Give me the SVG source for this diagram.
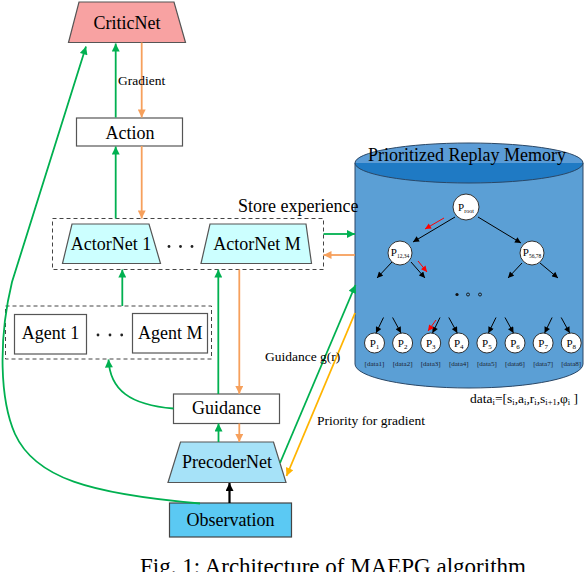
<svg xmlns="http://www.w3.org/2000/svg" width="586" height="572" viewBox="0 0 586 572">
<style>
text{font-family:"Liberation Serif","Times New Roman",serif;fill:#000}
.lbl{font-size:18px;text-anchor:middle}
.sm{font-size:13.5px}
.box{fill:#fff;stroke:#555;stroke-width:1.2}
.dash{fill:none;stroke:#444;stroke-width:1;stroke-dasharray:4,3}
.g{stroke:#00b050;stroke-width:1.8;fill:none}
.o{stroke:#f6a05c;stroke-width:1.8;fill:none}
.y{stroke:#ffb400;stroke-width:1.8;fill:none}
.k{stroke:#000;stroke-width:2.2;fill:none}
.t{stroke:#000;stroke-width:1;fill:none}
.r{stroke:#f00;stroke-width:1;fill:none}
.node{fill:#fff;stroke:#333;stroke-width:1}
.pl{font-size:11px;text-anchor:middle}
.dl{font-size:7px;text-anchor:middle;fill:#1a2230}
.dot{fill:#222}
</style>
<defs>
<marker id="ag" viewBox="0 0 10 10" refX="10" refY="5" markerUnits="userSpaceOnUse" markerWidth="10" markerHeight="8" orient="auto"><path d="M0,0L10,5L0,10z" fill="#00b050"/></marker>
<marker id="ao" viewBox="0 0 10 10" refX="10" refY="5" markerUnits="userSpaceOnUse" markerWidth="10" markerHeight="8" orient="auto"><path d="M0,0L10,5L0,10z" fill="#f6a05c"/></marker>
<marker id="ay" viewBox="0 0 10 10" refX="10" refY="5" markerUnits="userSpaceOnUse" markerWidth="10" markerHeight="8" orient="auto"><path d="M0,0L10,5L0,10z" fill="#ffb400"/></marker>
<marker id="ak" viewBox="0 0 10 10" refX="10" refY="5" markerUnits="userSpaceOnUse" markerWidth="10" markerHeight="8" orient="auto"><path d="M0,0L10,5L0,10z" fill="#000"/></marker>
<marker id="at" viewBox="0 0 10 10" refX="10" refY="5" markerUnits="userSpaceOnUse" markerWidth="7" markerHeight="6" orient="auto"><path d="M0,0L10,5L0,10z" fill="#000"/></marker>
<marker id="ar" viewBox="0 0 10 10" refX="10" refY="5" markerUnits="userSpaceOnUse" markerWidth="7" markerHeight="6" orient="auto"><path d="M0,0L10,5L0,10z" fill="#f00"/></marker>
</defs>

<g id="memory">
<path d="M355,163 V364 A114,24 0 0 0 583,364 V163 Z" fill="#5b9fd5" stroke="#2a4766" stroke-width="1"/>
<path d="M355,163 A114,20 0 0 1 583,163 Z" fill="#5b9cd6"/>
<path d="M355,163 A114,20 0 0 0 583,163 Z" fill="#1f7ac4"/>
<ellipse cx="469" cy="163" rx="114" ry="20" fill="none" stroke="#2a4766" stroke-width="1"/>
<text class="lbl" x="467" y="161">Prioritized Replay Memory</text>
<g id="tree">
<path class="t" d="M455,217 L413,242" marker-end="url(#at)"/>
<path class="t" d="M478,217 L521,243" marker-end="url(#at)"/>
<path class="t" d="M392,262 L377,278" marker-end="url(#at)"/>
<path class="t" d="M411,262 L425,278" marker-end="url(#at)"/>
<path class="t" d="M522,263 L508,278" marker-end="url(#at)"/>
<path class="t" d="M540,263 L558,278" marker-end="url(#at)"/>
<path class="r" d="M444,218 L425,229" marker-end="url(#ar)"/>
<path class="r" d="M418,261 L427,272" marker-end="url(#ar)"/>
<circle class="node" cx="466" cy="207" r="13"/>
<text class="pl" x="466" y="211">P<tspan font-size="6" dy="2">root</tspan></text>
<circle class="node" cx="400" cy="253" r="12"/>
<text class="pl" x="400" y="256" font-size="9">P<tspan font-size="5.5" dy="2">12,34</tspan></text>
<circle class="node" cx="532" cy="253" r="12"/>
<text class="pl" x="532" y="256" font-size="9">P<tspan font-size="5.5" dy="2">56,78</tspan></text>
<circle cx="457" cy="294.5" r="1.6" fill="#111"/>
<circle cx="468" cy="294.5" r="1.5" fill="none" stroke="#111" stroke-width="0.9"/>
<circle cx="480" cy="294.5" r="1.5" fill="none" stroke="#111" stroke-width="0.9"/>
<path class="t" d="M383.5,317.5 L376,333" marker-end="url(#at)"/>
<path class="t" d="M392.6,317.5 L401,333" marker-end="url(#at)"/>
<path class="t" d="M440,317.5 L432.5,333" marker-end="url(#at)"/>
<path class="r" d="M436,320 L428,331" marker-end="url(#ar)"/>
<path class="t" d="M448.8,317.5 L457.3,333" marker-end="url(#at)"/>
<path class="t" d="M496,317.5 L488.4,333" marker-end="url(#at)"/>
<path class="t" d="M505,317.5 L513.5,333" marker-end="url(#at)"/>
<path class="t" d="M552.1,317.5 L544.6,333" marker-end="url(#at)"/>
<path class="t" d="M561.2,317.5 L569.7,333" marker-end="url(#at)"/>
<circle class="node" cx="374.5" cy="343" r="10"/>
<circle class="node" cx="402.6" cy="343" r="10"/>
<circle class="node" cx="430.7" cy="343" r="10"/>
<circle class="node" cx="458.8" cy="343" r="10"/>
<circle class="node" cx="486.9" cy="343" r="10"/>
<circle class="node" cx="515" cy="343" r="10"/>
<circle class="node" cx="543.1" cy="343" r="10"/>
<circle class="node" cx="571.2" cy="343" r="10"/>
<g font-size="12">
<text class="pl" x="374.5" y="347" font-size="12">P<tspan font-size="7" dy="2">1</tspan></text>
<text class="pl" x="402.6" y="347" font-size="12">P<tspan font-size="7" dy="2">2</tspan></text>
<text class="pl" x="430.7" y="347" font-size="12">P<tspan font-size="7" dy="2">3</tspan></text>
<text class="pl" x="458.8" y="347" font-size="12">P<tspan font-size="7" dy="2">4</tspan></text>
<text class="pl" x="486.9" y="347" font-size="12">P<tspan font-size="7" dy="2">5</tspan></text>
<text class="pl" x="515" y="347" font-size="12">P<tspan font-size="7" dy="2">6</tspan></text>
<text class="pl" x="543.1" y="347" font-size="12">P<tspan font-size="7" dy="2">7</tspan></text>
<text class="pl" x="571.2" y="347" font-size="12">P<tspan font-size="7" dy="2">8</tspan></text>
</g>
<text class="dl" x="374.5" y="366">[data1]</text>
<text class="dl" x="402.6" y="366">[data2]</text>
<text class="dl" x="430.7" y="366">[data3]</text>
<text class="dl" x="458.8" y="366">[data4]</text>
<text class="dl" x="486.9" y="366">[data5]</text>
<text class="dl" x="515" y="366">[data6]</text>
<text class="dl" x="543.1" y="366">[data7]</text>
<text class="dl" x="571.2" y="366">[data8]</text>
</g>
</g>
<text x="470" y="403" font-size="13.5">data<tspan font-size="8.5" dy="2">i</tspan><tspan dy="-2">=[s</tspan><tspan font-size="8.5" dy="2">i</tspan><tspan dy="-2">,a</tspan><tspan font-size="8.5" dy="2">i</tspan><tspan dy="-2">,r</tspan><tspan font-size="8.5" dy="2">i</tspan><tspan dy="-2">,s</tspan><tspan font-size="8.5" dy="2">i+1</tspan><tspan dy="-2">,φ</tspan><tspan font-size="8.5" dy="2">i</tspan><tspan dy="-2"> ]</tspan></text>

<g id="critic">
<path d="M79,2 H174 L185.5,42.5 H68.5 Z" fill="#f8a2a2" stroke="#555" stroke-width="1.2"/>
<text class="lbl" x="127" y="29">CriticNet</text>
</g>
<g id="action">
<rect class="box" x="76.5" y="118" width="106" height="28"/>
<text class="lbl" x="130" y="139">Action</text>
</g>
<g id="actors">
<rect class="dash" x="52.5" y="218.5" width="271" height="51"/>
<path d="M72,224 H149 L160.5,263.5 H62.5 Z" fill="#ccffff" stroke="#555" stroke-width="1.2"/>
<text class="lbl" x="111" y="250">ActorNet 1</text>
<circle class="dot" cx="169" cy="246.5" r="1.4"/>
<circle class="dot" cx="180.5" cy="246.5" r="1.4"/>
<circle class="dot" cx="192" cy="246.5" r="1.4"/>
<path d="M210,224 H306 L311.5,263.5 H201 Z" fill="#ccffff" stroke="#555" stroke-width="1.2"/>
<text class="lbl" x="257" y="250">ActorNet M</text>
</g>
<text x="238" y="212" font-size="18">Store experience</text>
<g id="agents">
<rect class="dash" x="5.5" y="306" width="206" height="53"/>
<rect class="box" x="14.5" y="314.5" width="72" height="39.5"/>
<text class="lbl" x="50.5" y="339">Agent 1</text>
<circle class="dot" cx="98" cy="335" r="1.4"/>
<circle class="dot" cx="110" cy="335" r="1.4"/>
<circle class="dot" cx="121.7" cy="335" r="1.4"/>
<rect class="box" x="132.5" y="313.5" width="75" height="39.5"/>
<text class="lbl" x="170.3" y="339">Agent M</text>
</g>
<g id="guidance">
<rect class="box" x="173.5" y="394" width="106" height="29.5"/>
<text class="lbl" x="226.5" y="414">Guidance</text>
</g>
<g id="precoder">
<path d="M180.5,442 H273.5 L286,482.5 H168 Z" fill="#a6e2f8" stroke="#555" stroke-width="1.2"/>
<text class="lbl" x="227" y="468">PrecoderNet</text>
</g>
<g id="observation">
<rect x="169.5" y="503" width="122" height="34" fill="#5bc9f3" stroke="#444" stroke-width="1.2"/>
<text class="lbl" x="230.5" y="526">Observation</text>
</g>

<g id="connectors">
<path class="g" d="M115.7,117.5 V43.5" marker-end="url(#ag)"/>
<path class="o" d="M141.7,42.5 V117.5" marker-end="url(#ao)"/>
<path class="g" d="M115.7,218.5 V146.5" marker-end="url(#ag)"/>
<path class="o" d="M141.7,146 V218.5" marker-end="url(#ao)"/>
<path class="g" d="M323.5,234 H355" marker-end="url(#ag)"/>
<path class="o" d="M355,255 H323.5" marker-end="url(#ao)"/>
<path class="g" d="M122.3,306 V269.5" marker-end="url(#ag)"/>
<path class="g" d="M218.3,394 V269.5" marker-end="url(#ag)"/>
<path class="o" d="M239.3,269.5 V394" marker-end="url(#ao)"/>
<path class="g" d="M173.5,408.5 C130,405 110,390 108.5,359.5" marker-end="url(#ag)"/>
<path class="g" d="M218.5,442 V423.5" marker-end="url(#ag)"/>
<path class="o" d="M239.3,423.5 V442" marker-end="url(#ao)"/>
<path class="k" d="M229.5,503 V483" marker-end="url(#ak)"/>
<path class="g" d="M280,463 L355.5,285" marker-end="url(#ag)"/>
<path class="y" d="M355,313 L286.5,476" marker-end="url(#ay)"/>
<path class="g" d="M200,503.5 C90,494 35,478 15,434 C0,400 -2,340 12,282 L86,46.5" marker-end="url(#ag)"/>
</g>
<text class="sm" x="141.7" y="85" text-anchor="middle">Gradient</text>
<text class="sm" x="265" y="361">Guidance g(r)</text>
<text class="sm" x="317" y="425">Priority for gradient</text>
<text x="333" y="574" font-size="23" text-anchor="middle">Fig. 1: Architecture of MAEPG algorithm</text>
</svg>
